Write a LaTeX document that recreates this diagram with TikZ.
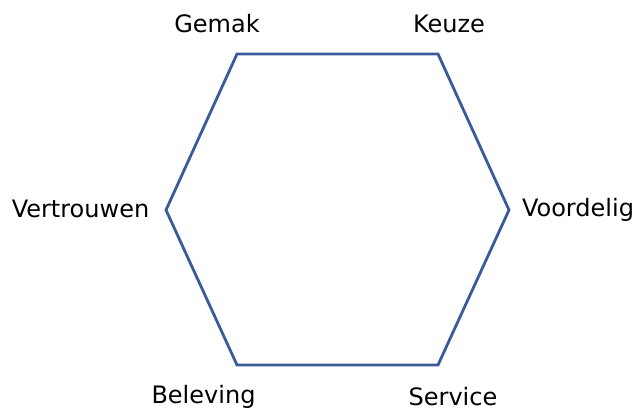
\documentclass[tikz,border=0pt]{standalone}
\usepackage{fontspec}
\setmainfont{DejaVu Sans}
\usepackage{tikz}

\definecolor{hexblue}{HTML}{3B5A9A}

\begin{document}
\begin{tikzpicture}[x=1pt, y=-1pt,
    label text/.style={anchor=base, inner sep=0pt, font=\fontsize{24}{28}\selectfont},
    hex edge/.style={hexblue, line width=2.8pt, line join=miter}]
    \useasboundingbox (0, 0) rectangle (635, 410);

    % corners of the hexagon
    \coordinate (gemak) at (237, 54);
    \coordinate (keuze) at (438, 54);
    \coordinate (voordelig) at (509, 210);
    \coordinate (service) at (438, 365);
    \coordinate (beleving) at (237, 365);
    \coordinate (vertrouwen) at (166, 210);

    \draw[hex edge] (gemak) -- (keuze) -- (voordelig) -- (service)
        -- (beleving) -- (vertrouwen) -- cycle;

    % labels
    \node[label text] (gemak label) at (217, 32) {Gemak};
    \node[label text] (keuze label) at (449, 32) {Keuze};
    \node[label text] (voordelig label) at (578, 216) {Voordelig};
    \node[label text] (service label) at (453, 405) {Service};
    \node[label text] (beleving label) at (203.5, 403) {Beleving};
    \node[label text] (vertrouwen label) at (80.5, 217) {Vertrouwen};
\end{tikzpicture}
\end{document}
